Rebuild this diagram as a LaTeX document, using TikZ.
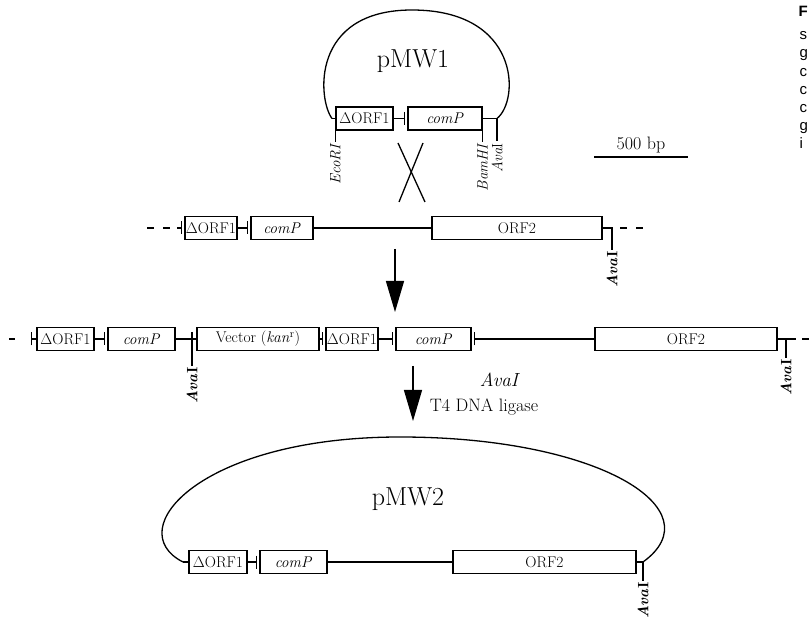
\documentclass[tikz,border=0pt]{standalone}
\usepackage{fontspec}
\newfontfamily\capfont{Liberation Sans}
\usetikzlibrary{arrows.meta}

\tikzset{
  gene/.style={draw, minimum height=23pt, inner sep=0pt, font=\fontsize{15.5}{17}\selectfont},
  link/.style={-{Bar[width=13pt]}, shorten >=2pt},
  site/.style={rotate=90, anchor=east, inner sep=1pt, font=\fontsize{15}{17}\selectfont},
  plasmid/.style={anchor=base, inner sep=0pt, font=\fontsize{26}{29}\selectfont},
  bigarrow/.style={-{Triangle[length=31pt,width=18pt]}},
  gap/.style={dash pattern=on 7pt off 9pt}
}

\begin{document}
\begin{tikzpicture}[x=1pt,y=-1pt,line width=1.3pt]
    \useasboundingbox (0,0) rectangle (809,617);

    % Place the plasmid pMW1
    \node[gene, minimum width=57pt] (d1) at (364.5,118.5) {ΔORF1};
    \node[gene, minimum width=74pt] (c1) at (445,118.5) {\textit{comP}};
    \node[plasmid] (p1) at (413,68) {pMW1};
    \coordinate (e1) at (332,118.5);
    \coordinate (a1) at (497,118.5);

    % Draw the pMW1 backbone and its sites
    \draw (e1) -- (d1.west);
    \draw[link] (d1) -- (c1);
    \draw (c1.east) -- (a1);
    \draw (e1) .. controls (318,100) and (310,10) .. (412,10)
               .. controls (520,10) and (520,100) .. (a1);
    \draw (d1.south west) -- ++(0,11) node[site] (eco1) {\textit{EcoRI}};
    \draw (c1.south east) -- ++(0,11) node[site] (bam1) {\textit{BamHI}};
    \draw (a1) -- ++(0,23) node[site] (ava1) {\textit{Ava}I};

    % Crossover
    \draw (398,143) -- (425,202);
    \draw (423,143) -- (399,202);

    % Scale bar
    \node[anchor=base, inner sep=0pt, font=\fontsize{18}{20}\selectfont] (bp) at (641,150) {500 bp};
    \draw (594,157) -- (688,157);

    % Place the nodes of the chromosome
    \node[gene, minimum width=52pt]  (d2) at (211,228) {ΔORF1};
    \node[gene, minimum width=62pt]  (c2) at (282,228) {\textit{comP}};
    \node[gene, minimum width=170pt] (o2) at (517,228) {ORF2};
    \coordinate (l2) at (147,228);
    \coordinate (r2) at (612,228);

    % Draw the chromosome
    \draw[gap] (l2) -- ++(25,0);
    \draw[link] (177,228) -- (d2.west);
    \draw[link] (d2) -- (c2);
    \draw (c2) -- (o2);
    \draw (o2.east) -- (r2) -- ++(0,22) node[site] (ava2) {\textbf{\textit{Ava}I}};
    \draw[gap] (r2) ++(8,0) -- ++(27,0);

    % First arrow
    \coordinate (s1) at (395,249);
    \coordinate (t1) at (395,312);
    \draw[bigarrow] (s1) -- (t1);

    % Place the nodes of the integrant
    \node[gene, minimum width=57pt]  (dA)  at (65.5,339) {ΔORF1};
    \node[gene, minimum width=67pt]  (cA)  at (141.5,339) {\textit{comP}};
    \node[gene, minimum width=122pt] (vec) at (258,339) {Vector (\textit{kan}\textsuperscript{r})};
    \node[gene, minimum width=52pt]  (dB)  at (352,339) {ΔORF1};
    \node[gene, minimum width=75pt]  (cB)  at (433.5,339) {\textit{comP}};
    \node[gene, minimum width=182pt] (oB)  at (686,339) {ORF2};
    \coordinate (l3) at (9,339);
    \coordinate (v3) at (192,339);
    \coordinate (r3) at (786,339);

    % Draw the integrant
    \draw (l3) -- ++(6,0);
    \draw[{Bar[width=13pt]}-] (31,339) -- (dA.west);
    \draw[link] (dA) -- (cA);
    \draw (cA) -- (vec);
    \draw (v3) ++(0,-7) -- ++(0,34) node[site] (ava3) {\textbf{\textit{Ava}I}};
    \draw[link] (vec) -- (dB);
    \draw[link] (dB) -- (cB);
    \draw[{Bar[width=13pt]}-, shorten <=2pt] (cB) -- (oB);
    \draw (oB.east) -- ++(18,0);
    \draw (r3) -- ++(0,19) node[site] (ava4) {\textbf{\textit{Ava}I}};
    \draw (r3) ++(16,0) -- ++(10,0);

    % Second arrow
    \coordinate (s2) at (413,366);
    \coordinate (t2) at (413,421);
    \draw[bigarrow] (s2) -- (t2);
    \node[anchor=base, inner sep=0pt, font=\fontsize{19}{21}\selectfont] (enz) at (500,387) {\textit{AvaI}};
    \node[anchor=base, inner sep=0pt, font=\fontsize{18}{20}\selectfont] (lig) at (484,412) {T4 DNA ligase};

    % Place the plasmid pMW2
    \node[gene, minimum width=58pt]  (d3) at (218,562) {ΔORF1};
    \node[gene, minimum width=67pt]  (c3) at (293.5,562) {\textit{comP}};
    \node[gene, minimum width=183pt] (o3) at (544.5,562) {ORF2};
    \node[plasmid] (p2) at (408,505) {pMW2};
    \coordinate (e3) at (183,562);
    \coordinate (a3) at (643,562);

    % Draw the pMW2 backbone
    \draw (e3) -- (d3.west);
    \draw[link] (d3) -- (c3);
    \draw (c3) -- (o3);
    \draw (o3.east) -- (a3);
    \draw (a3) -- ++(0,19) node[site] (ava5) {\textbf{\textit{Ava}I}};
    \draw (a3) .. controls (715,510) and (600,437) .. (400,437)
               .. controls (200,437) and (120,530) .. (e3);

    % Caption letters at the right edge
    \node[anchor=base west, inner sep=0pt, font=\capfont\bfseries\fontsize{15}{17}\selectfont] (capF) at (798,17) {F};
    \foreach \ch/\yy [count=\i] in {s/40, g/58, c/77, c/95, c/113, g/131, i/149}
        \node[anchor=base west, inner sep=0pt, font=\capfont\fontsize{15}{17}\selectfont] (cap\i) at (799,\yy) {\ch};

\end{tikzpicture}
\end{document}
